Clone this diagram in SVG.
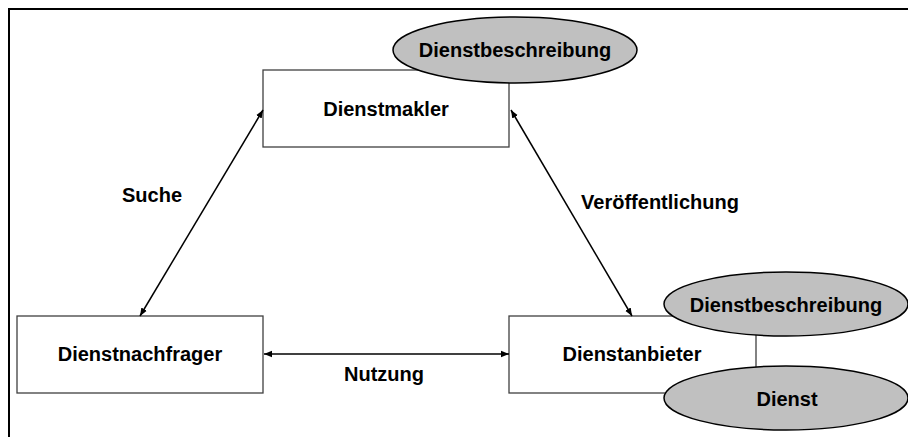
<svg xmlns="http://www.w3.org/2000/svg" width="908" height="437" viewBox="0 0 908 437">
<defs>
<marker id="ah" viewBox="0 0 10 10" refX="10" refY="5" markerWidth="8" markerHeight="8" markerUnits="userSpaceOnUse" orient="auto-start-reverse">
<path d="M0,1 L10,5 L0,9 Z" fill="#000"/>
</marker>
</defs>
<style>
.box{fill:#fff;stroke:#404040;stroke-width:1.3}
.ell{fill:#c0c0c0;stroke:#000;stroke-width:1.5}
.t{font-family:"Liberation Sans",Arial,sans-serif;font-weight:bold;font-size:20px;fill:#000;text-anchor:middle}
.c{stroke:#000;stroke-width:1.5;fill:none;marker-start:url(#ah);marker-end:url(#ah)}
</style>
<rect x="0" y="0" width="908" height="437" fill="#fff"/>
<g id="frame">
<path d="M9,437 V9 H908" fill="none" stroke="#000" stroke-width="2"/>
</g>
<g id="dienstmakler">
<rect class="box" x="263" y="70" width="246" height="77"/>
<text class="t" x="386" y="116">Dienstmakler</text>
</g>
<g id="dienstbeschreibung-oben">
<ellipse class="ell" cx="515" cy="50" rx="122" ry="33"/>
<text class="t" x="515" y="57">Dienstbeschreibung</text>
</g>
<g id="dienstnachfrager">
<rect class="box" x="17" y="316" width="246" height="77"/>
<text class="t" x="140" y="361">Dienstnachfrager</text>
</g>
<g id="dienstanbieter">
<rect class="box" x="509" y="316" width="247" height="77"/>
<text class="t" x="632" y="361">Dienstanbieter</text>
</g>
<g id="dienstbeschreibung-unten">
<ellipse class="ell" cx="786" cy="304" rx="122" ry="32"/>
<text class="t" x="786" y="312">Dienstbeschreibung</text>
</g>
<g id="dienst">
<ellipse class="ell" cx="786" cy="398" rx="122" ry="32"/>
<text class="t" x="787" y="406">Dienst</text>
</g>
<g id="connectors">
<line class="c" x1="263" y1="110" x2="140" y2="316"/>
<line class="c" x1="511" y1="110" x2="632" y2="316"/>
<line class="c" x1="264" y1="354" x2="509" y2="354"/>
</g>
<g id="labels">
<text class="t" x="152" y="202">Suche</text>
<text class="t" x="660" y="209">Veröffentlichung</text>
<text class="t" x="384" y="381">Nutzung</text>
</g>
</svg>
